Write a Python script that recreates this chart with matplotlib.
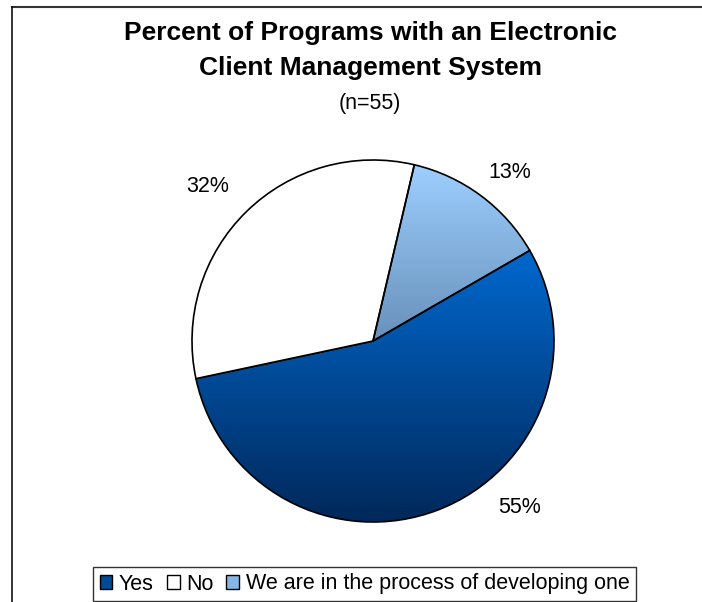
import numpy as np
import matplotlib
matplotlib.use("Agg")
import matplotlib.pyplot as plt
from matplotlib.colors import LinearSegmentedColormap
from matplotlib.patches import Patch
from matplotlib.lines import Line2D

plt.rcParams['font.family'] = ['Liberation Sans', 'DejaVu Sans']

# survey answers (n=55)
categories = ["Yes", "No", "We are in the process of developing one"]
percents = [55, 32, 13]
labels = ["55%", "32%", "13%"]

# gradient fills, top colour -> bottom colour
grad_top = ["#0068CE", None, "#9DCFFF"]
grad_bottom = ["#00285A", None, "#6890BA"]
legend_colors = ["#004A96", "white", "#88B6E4"]

W, H = 702, 602
fig = plt.figure(figsize=(W / 100, H / 100), dpi=100)

# pie centre and radius in pixels
cx, cy, R = 373, 341, 181
ax = fig.add_axes([(cx - R) / W, (H - cy - R) / H, 2 * R / W, 2 * R / H])

wedges, _ = ax.pie(percents, startangle=30, counterclock=False, radius=1,
                   colors=["none", "white", "none"],
                   wedgeprops=dict(edgecolor="black", linewidth=1.2, zorder=3))

for w, top, bot in zip(wedges, grad_top, grad_bottom):
    if top is None:
        continue
    ext = w.get_path().get_extents()
    cmap = LinearSegmentedColormap.from_list("g", [top, bot])
    grad = np.linspace(0, 1, 256).reshape(-1, 1)
    im = ax.imshow(grad, cmap=cmap, extent=[ext.x0, ext.x1, ext.y0, ext.y1],
                   origin="upper", aspect="auto", zorder=1, interpolation="bilinear")
    im.set_clip_path(w)

ax.set_xlim(-1, 1)
ax.set_ylim(-1, 1)
ax.axis("off")

# percent labels, placed around the pie (radius, angle in degrees)
label_pos = [(1.225, -48.5), (1.25, 137), (1.20, 51)]
for txt, (r, a) in zip(labels, label_pos):
    ax.text(r * np.cos(np.radians(a)), r * np.sin(np.radians(a)), txt,
            ha="center", va="center", fontsize=15.5, clip_on=False)

# titles
fig.text(370 / W, 1 - 33 / H, "Percent of Programs with an Electronic",
         ha="center", va="center", fontsize=19, fontweight="bold")
fig.text(370 / W, 1 - 68 / H, "Client Management System",
         ha="center", va="center", fontsize=19, fontweight="bold")
fig.text(370 / W, 1 - 104 / H, "(n=55)", ha="center", va="center", fontsize=15.5)

# chart area border (top and left edges)
fig.add_artist(Line2D([12 / W, 1], [1 - 6.5 / H, 1 - 6.5 / H], color="#333333", lw=1.5))
fig.add_artist(Line2D([12 / W, 12 / W], [0, 1 - 6.5 / H], color="#111111", lw=1.2))

handles = [Patch(facecolor=c, edgecolor="black", linewidth=1) for c in legend_colors]
leg = fig.legend(handles, categories, loc="center", bbox_to_anchor=(364.5 / W, 1 - 584 / H),
                 ncol=3, fontsize=15.5, frameon=True, fancybox=False, edgecolor="black",
                 handlelength=0.6, handleheight=0.6, handletextpad=0.3,
                 columnspacing=0.6, borderpad=0.3, borderaxespad=0)
leg.get_frame().set_linewidth(1)

fig.savefig("out.png", dpi=100)
